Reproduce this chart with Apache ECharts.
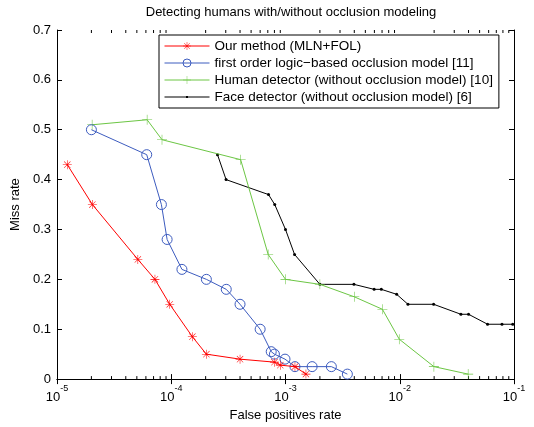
<!DOCTYPE html>
<html>
<head>
<meta charset="utf-8">
<script src="https://cdn.jsdelivr.net/npm/echarts@6/dist/echarts.min.js"></script>
<style>html,body{margin:0;padding:0;background:#fff}#c{width:534px;height:427px}</style>
</head>
<body>
<div id="c"></div>
<script>
// ---- data ----
const titleText = 'Detecting humans with/without occlusion modeling';
const xName = 'False positives rate';
const yName = 'Miss rate';
const seriesNames = [
  'Our method (MLN+FOL)',
  'first order logic\u2212based occlusion model [11]',
  'Human detector (without occlusion model) [10]',
  'Face detector (without occlusion model) [6]'
];
const oursX = [1.23e-5, 2.04e-5, 5.1e-5, 7.2e-5, 9.7e-5, 1.53e-4, 2.03e-4, 4.0e-4, 8.0e-4, 9.0e-4, 1.21e-3, 1.51e-3];
const oursY = [0.43, 0.35, 0.24, 0.20, 0.15, 0.085, 0.05, 0.04, 0.034, 0.028, 0.025, 0.01];
const folX = [2.0e-5, 6.1e-5, 8.2e-5, 9.2e-5, 1.24e-4, 2.03e-4, 3.03e-4, 4.0e-4, 6.0e-4, 7.5e-4, 8.0e-4, 9.9e-4, 1.21e-3, 1.71e-3, 2.52e-3, 3.48e-3];
const folY = [0.50, 0.45, 0.35, 0.28, 0.22, 0.20, 0.18, 0.15, 0.10, 0.055, 0.05, 0.04, 0.025, 0.025, 0.025, 0.01];
const humanX = [2.03e-5, 6.15e-5, 8.3e-5, 4.05e-4, 7.05e-4, 1.0e-3, 2.0e-3, 4.0e-3, 7.05e-3, 9.9e-3, 1.99e-2, 3.97e-2];
const humanY = [0.51, 0.52, 0.48, 0.44, 0.25, 0.20, 0.19, 0.165, 0.14, 0.08, 0.025, 0.01];
const faceX = [2.54e-4, 3.02e-4, 7.1e-4, 8.05e-4, 1.0e-3, 1.2e-3, 2.0e-3, 3.97e-3, 5.97e-3, 6.9e-3, 9.4e-3, 1.18e-2, 1.98e-2, 3.43e-2, 4.0e-2, 5.87e-2, 7.85e-2, 9.75e-2];
const faceY = [0.45, 0.40, 0.37, 0.35, 0.30, 0.25, 0.19, 0.19, 0.18, 0.18, 0.17, 0.15, 0.15, 0.13, 0.13, 0.11, 0.11, 0.11];
const yTicks = [0, 0.1, 0.2, 0.3, 0.4, 0.5, 0.6, 0.7];
const xDecades = [-5, -4, -3, -2, -1];
const minorMantissas = [2, 3, 4, 5, 6, 7, 8, 9];
const colors = ['#ff0000', '#3d5cbf', '#6cc644', '#000000'];

// ---- build ----
const FONT = 'Liberation Sans';
const pair = (xs, ys) => xs.map((x, i) => [x, ys[i]]);
const minorVals = [];
xDecades.slice(0, -1).forEach(d => minorMantissas.forEach(m => minorVals.push([m * Math.pow(10, d), 0])));

const asterisk = 'path://M9.4,0L10.6,0L10.6,20L9.4,20Z M0,9.4L20,9.4L20,10.6L0,10.6Z M3.35,2.5L17.5,16.65L16.65,17.5L2.5,3.35Z M16.65,2.5L17.5,3.35L3.35,17.5L2.5,16.65Z';
const plus = 'path://M9.45,0L10.55,0L10.55,20L9.45,20Z M0,9.45L20,9.45L20,10.55L0,10.55Z';
// legend icon for the face detector: thin line with a tiny dot (45x10 box)
const faceIcon = 'path://M0,0L0.01,0L0,0.01Z M45,10L44.99,10L45,9.99Z M0,4.5L45,4.5L45,5.5L0,5.5Z M21.5,4L23.5,4L23.5,6L21.5,6Z';

const chart = echarts.init(document.getElementById('c'), null, {renderer: 'canvas'});
const xBase = {
  type: 'log', logBase: 10, min: 1e-5, max: 1e-1, splitNumber: 4,
  splitLine: {show: false},
  axisLine: {lineStyle: {color: '#000', width: 1}},
  axisTick: {inside: true, length: 5, lineStyle: {color: '#000'}},
  minorTick: {show: false}
};
const yBase = {
  type: 'value', min: 0, max: 0.7, interval: 0.1,
  splitLine: {show: false},
  axisLine: {lineStyle: {color: '#000', width: 1}},
  axisTick: {inside: true, length: 5, lineStyle: {color: '#000'}}
};
const option = {
  backgroundColor: '#fff',
  animation: false,
  title: {
    text: titleText, left: 286, top: 1, textAlign: 'center',
    textStyle: {fontFamily: FONT, fontSize: 13, fontWeight: 'normal', color: '#000'}
  },
  grid: {left: 57, right: 20, top: 30, bottom: 34},
  legend: {
    orient: 'vertical', left: 159, top: 35,
    data: [
      {name: seriesNames[0]},
      {name: seriesNames[1], itemStyle: {borderWidth: 1}},
      {name: seriesNames[2]},
      {name: seriesNames[3], icon: faceIcon}
    ],
    backgroundColor: '#fff', borderColor: '#000', borderWidth: 1,
    padding: [4, 6, 4, 5], itemGap: 3, itemWidth: 45, itemHeight: 10,
    lineStyle: {width: 1},
    textStyle: {fontFamily: FONT, fontSize: 13.5, color: '#000'}
  },
  xAxis: [
    Object.assign({}, xBase, {
      position: 'bottom', name: xName, nameLocation: 'middle', nameGap: 25,
      nameTextStyle: {fontFamily: FONT, fontSize: 13, color: '#000'},
      axisLabel: {
        margin: 5, color: '#000',
        formatter: v => '{b|10}{s|' + Math.round(Math.log10(v)) + '}',
        rich: {
          b: {fontFamily: FONT, fontSize: 13, color: '#000', verticalAlign: 'bottom', lineHeight: 20},
          s: {fontFamily: FONT, fontSize: 9, color: '#000', verticalAlign: 'top', lineHeight: 20}
        }
      }
    }),
    Object.assign({}, xBase, {position: 'top', axisLabel: {show: false}})
  ],
  yAxis: [
    Object.assign({}, yBase, {
      position: 'left', name: yName, nameLocation: 'middle', nameGap: 25,
      nameTextStyle: {fontFamily: FONT, fontSize: 13, color: '#000'},
      axisLabel: {margin: 6, color: '#000', fontFamily: FONT, fontSize: 13, formatter: v => String(+v.toFixed(1))}
    }),
    Object.assign({}, yBase, {position: 'right', axisLabel: {show: false}})
  ],
  series: [
    {
      name: seriesNames[0], type: 'line', data: pair(oursX, oursY),
      symbol: asterisk, symbolSize: 9, color: colors[0],
      lineStyle: {width: 1, color: colors[0]}, itemStyle: {color: colors[0]}, z: 5
    },
    {
      name: seriesNames[1], type: 'line', data: pair(folX, folY),
      symbol: 'circle', symbolSize: 10, color: colors[1],
      lineStyle: {width: 1, color: colors[1]},
      itemStyle: {color: 'rgba(0,0,0,0)', borderColor: colors[1], borderWidth: 1}, z: 4
    },
    {
      name: seriesNames[2], type: 'line', data: pair(humanX, humanY),
      symbol: plus, symbolSize: 10, color: colors[2],
      lineStyle: {width: 1, color: colors[2]}, itemStyle: {color: colors[2]}, z: 3
    },
    {
      name: seriesNames[3], type: 'line', data: pair(faceX, faceY),
      symbol: 'circle', symbolSize: 3, color: colors[3],
      lineStyle: {width: 1, color: colors[3]}, itemStyle: {color: colors[3]}, z: 2
    },
    {
      type: 'custom', data: minorVals, silent: true, clip: false, z: 1,
      renderItem: function (params, api) {
        const v = api.value(0);
        const b = api.coord([v, 0]);
        const t = api.coord([v, 0.7]);
        return {type: 'group', children: [
          {type: 'line', shape: {x1: b[0], y1: b[1], x2: b[0], y2: b[1] - 3}, style: {stroke: '#000', lineWidth: 1}},
          {type: 'line', shape: {x1: t[0], y1: t[1], x2: t[0], y2: t[1] + 3}, style: {stroke: '#000', lineWidth: 1}}
        ]};
      }
    }
  ]
};
chart.setOption(option);
</script>
</body>
</html>
